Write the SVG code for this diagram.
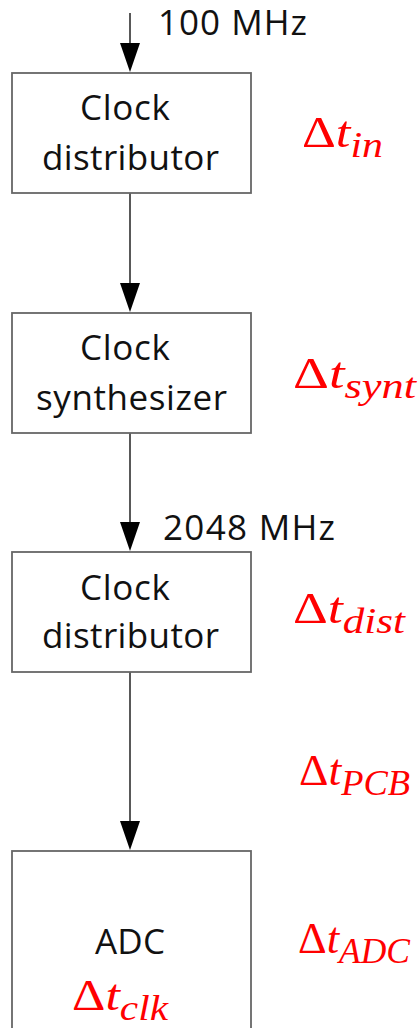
<svg xmlns="http://www.w3.org/2000/svg" width="419" height="1028" viewBox="0 0 419 1028">
<style>
.box{fill:#fff;stroke:#666;stroke-width:1.8}
.lbl{font-family:"Open Sans","Liberation Sans",sans-serif;font-size:35px;fill:#111;text-anchor:start}
.freq{font-family:"Open Sans","Liberation Sans",sans-serif;font-size:35px;fill:#111}
.m{font-family:"Liberation Serif","DejaVu Serif",serif;fill:#f00;font-size:44px}
.it{font-style:italic}
.sub{font-style:italic;font-size:35px}
.conn{stroke:#222;stroke-width:1.5;fill:none}
.head{fill:#000}
</style>
<g id="connectors">
<line class="conn" x1="130" y1="13" x2="130" y2="43"/>
<path class="head" d="M120,43 L140,43 L130,72 Z"/>
<line class="conn" x1="130" y1="193" x2="130" y2="283"/>
<path class="head" d="M120,283 L140,283 L130,312 Z"/>
<line class="conn" x1="130" y1="433" x2="130" y2="522"/>
<path class="head" d="M120,522 L140,522 L130,551 Z"/>
<line class="conn" x1="130" y1="672" x2="130" y2="821"/>
<path class="head" d="M120,821 L140,821 L130,850 Z"/>
</g>
<g id="freq1"><text class="freq" x="158" y="35" textLength="149">100 MHz</text></g>
<g id="freq2"><text class="freq" x="163" y="540" textLength="172">2048 MHz</text></g>
<g id="node1">
<rect class="box" x="12" y="73" width="239" height="120"/>
<text class="lbl" x="80" y="120" textLength="90">Clock</text>
<text class="lbl" x="42" y="170" textLength="177">distributor</text>
</g>
<g id="node2">
<rect class="box" x="12" y="313" width="239" height="120"/>
<text class="lbl" x="80" y="360" textLength="90">Clock</text>
<text class="lbl" x="36" y="410" textLength="191">synthesizer</text>
</g>
<g id="node3">
<rect class="box" x="12" y="552" width="239" height="120"/>
<text class="lbl" x="80" y="600" textLength="90">Clock</text>
<text class="lbl" x="42" y="648" textLength="177">distributor</text>
</g>
<g id="node4">
<rect class="box" x="12" y="851" width="239" height="190"/>
<text class="lbl" x="95" y="954" textLength="70">ADC</text>
<text class="m" x="72" y="1010" textLength="96" lengthAdjust="spacingAndGlyphs">Δ<tspan class="it">t</tspan><tspan class="sub" dy="10">clk</tspan></text>
</g>
<g id="labels">
<text class="m" x="302" y="147" textLength="81" lengthAdjust="spacingAndGlyphs">Δ<tspan class="it">t</tspan><tspan class="sub" dy="10">in</tspan></text>
<text class="m" x="293" y="388" textLength="123" lengthAdjust="spacingAndGlyphs">Δ<tspan class="it">t</tspan><tspan class="sub" dy="10">synt</tspan></text>
<text class="m" x="293" y="623" textLength="112" lengthAdjust="spacingAndGlyphs">Δ<tspan class="it">t</tspan><tspan class="sub" dy="10">dist</tspan></text>
<text class="m" x="299" y="785" textLength="111" lengthAdjust="spacingAndGlyphs">Δ<tspan class="it">t</tspan><tspan class="sub" dy="10">PCB</tspan></text>
<text class="m" x="298" y="953" textLength="112" lengthAdjust="spacingAndGlyphs">Δ<tspan class="it">t</tspan><tspan class="sub" dy="10">ADC</tspan></text>
</g>
</svg>
